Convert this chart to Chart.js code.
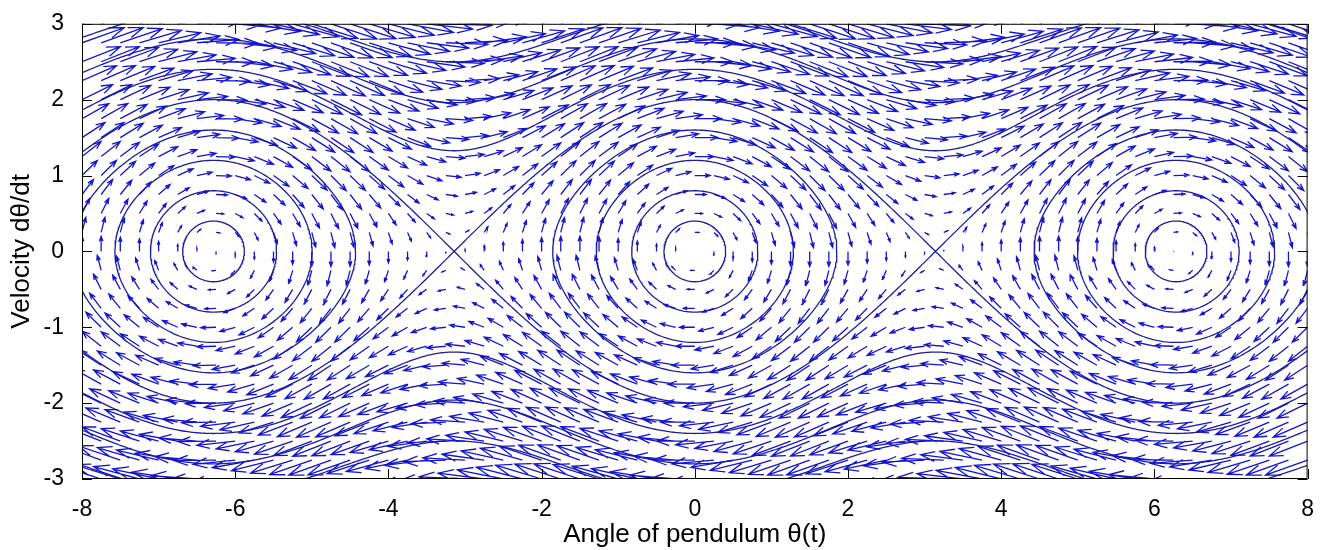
<!DOCTYPE html>
<html>
<head>
<meta charset="utf-8">
<script src="https://cdn.jsdelivr.net/npm/chart.js@4.4.1/dist/chart.umd.min.js"></script>
<style>
  html, body { margin: 0; padding: 0; background: #fff; }
</style>
</head>
<body>
<canvas id="phaseChart" width="1323" height="550"></canvas>
<script>
// Arrow grid of the quiver plot (theta along x, velocity along y)
const thetaGrid = [-8, -7.75, -7.5, -7.25, -7, -6.75, -6.5, -6.25, -6, -5.75, -5.5, -5.25,
  -5, -4.75, -4.5, -4.25, -4, -3.75, -3.5, -3.25, -3, -2.75, -2.5, -2.25, -2, -1.75, -1.5,
  -1.25, -1, -0.75, -0.5, -0.25, 0, 0.25, 0.5, 0.75, 1, 1.25, 1.5, 1.75, 2, 2.25, 2.5, 2.75,
  3, 3.25, 3.5, 3.75, 4, 4.25, 4.5, 4.75, 5, 5.25, 5.5, 5.75, 6, 6.25, 6.5, 6.75, 7, 7.25,
  7.5, 7.75, 8];
const omegaGrid = [-3, -2.75, -2.5, -2.25, -2, -1.75, -1.5, -1.25, -1, -0.75, -0.5, -0.25,
  0, 0.25, 0.5, 0.75, 1, 1.25, 1.5, 1.75, 2, 2.25, 2.5, 2.75, 3];

// Trajectories: launch velocities at the bottom of each well
const launchVelocities = [0.4, 0.8, 1.2, 1.6, 2.0, 2.4, 2.8, 3.2, 3.6];
const wellCenters = [-2 * Math.PI, 0, 2 * Math.PI];

const xTicks = [-8, -6, -4, -2, 0, 2, 4, 6, 8];
const yTicks = [-3, -2, -1, 0, 1, 2, 3];

const blue = "#1414cc";
const navy = "#1e1e98";

// pendulum: dtheta/dt = omega, domega/dt = -sin(theta)
function field(th, w) {
  return [w, -Math.sin(th)];
}

// quiver arrows as one broken line dataset
const arrowScale = 0.2, headLen = 0.33, headWid = 0.36;
const arrows = [];
for (const w of omegaGrid) {
  for (const th of thetaGrid) {
    const [du, dv] = field(th, w);
    const u = du * arrowScale, v = dv * arrowScale;
    if (u === 0 && v === 0) continue;
    const tx = th + u, ty = w + v;
    arrows.push({ x: th, y: w }, { x: tx, y: ty }, { x: tx, y: null });
    arrows.push({ x: tx - headLen * (u + headWid * v), y: ty - headLen * (v - headWid * u) });
    arrows.push({ x: tx, y: ty });
    arrows.push({ x: tx - headLen * (u - headWid * v), y: ty - headLen * (v + headWid * u) });
    arrows.push({ x: tx, y: null });
  }
}

// orbits from energy E = w^2/2 - cos(theta)
const orbits = [];
for (const w0 of launchVelocities) {
  const E = w0 * w0 / 2 - 1;
  if (E < 0.999) {
    const thMax = Math.acos(-E);
    for (const c of wellCenters) {
      const pts = [];
      for (let i = 0; i <= 240; i++) {
        const t = i / 240 * 2 * Math.PI;
        const d = thMax * Math.cos(t);
        const r = Math.sqrt(Math.max(0, 2 * (E + Math.cos(d))));
        pts.push({ x: c + d, y: Math.sin(t) >= 0 ? r : -r });
      }
      orbits.push(pts);
    }
  } else {
    for (const s of [1, -1]) {
      const pts = [];
      for (let i = 0; i <= 800; i++) {
        const th = -8 + i * 0.02;
        pts.push({ x: th, y: s * Math.sqrt(Math.max(0, 2 * (E + Math.cos(th)))) });
      }
      orbits.push(pts);
    }
  }
}

const datasets = [{
  data: arrows, borderColor: blue, borderWidth: 1.3, pointRadius: 0, spanGaps: false
}];
orbits.forEach(pts => datasets.push({
  data: pts, borderColor: navy, borderWidth: 1.3, pointRadius: 0
}));

// box and inward tick marks, matlab style
const frame = {
  id: "frame",
  afterDatasetsDraw(chart) {
    const { ctx, chartArea: a, scales: { x, y } } = chart;
    ctx.save();
    ctx.strokeStyle = "#000";
    ctx.lineWidth = 1;
    ctx.beginPath();
    ctx.rect(a.left + 0.5, a.top + 0.5, a.right - a.left - 1, a.bottom - a.top - 1);
    xTicks.forEach(v => {
      const px = Math.round(x.getPixelForValue(v)) + 0.5;
      ctx.moveTo(px, a.bottom); ctx.lineTo(px, a.bottom - 10);
      ctx.moveTo(px, a.top); ctx.lineTo(px, a.top + 10);
    });
    yTicks.forEach(v => {
      const py = Math.round(y.getPixelForValue(v)) + 0.5;
      ctx.moveTo(a.left, py); ctx.lineTo(a.left + 10, py);
      ctx.moveTo(a.right, py); ctx.lineTo(a.right - 10, py);
    });
    ctx.stroke();
    ctx.restore();
  }
};

Chart.defaults.font.family = '"Liberation Sans", Arial, sans-serif';
Chart.defaults.color = "#000";

new Chart(document.getElementById("phaseChart"), {
  type: "line",
  data: { datasets },
  plugins: [frame],
  options: {
    responsive: false,
    animation: false,
    events: [],
    layout: { padding: { top: 22, right: 11, left: 0, bottom: 0 } },
    plugins: { legend: { display: false }, tooltip: { enabled: false } },
    scales: {
      x: {
        type: "linear", min: -8, max: 8,
        afterFit: s => { s.height = 71; },
        afterBuildTicks: s => { s.ticks = xTicks.map(v => ({ value: v })); },
        grid: { display: false },
        border: { display: false },
        ticks: { font: { size: 23 }, padding: 9, maxRotation: 0 },
        title: { display: true, text: "Angle of pendulum θ(t)", font: { size: 26 }, padding: { bottom: 0 } }
      },
      y: {
        type: "linear", min: -3, max: 3,
        afterFit: s => { s.width = 82; },
        afterBuildTicks: s => { s.ticks = yTicks.map(v => ({ value: v })); },
        grid: { display: false },
        border: { display: false },
        ticks: { font: { size: 23 }, padding: 10 },
        title: { display: true, text: "Velocity dθ/dt", font: { size: 26 }, padding: { top: 6 } }
      }
    }
  }
});
</script>
</body>
</html>
